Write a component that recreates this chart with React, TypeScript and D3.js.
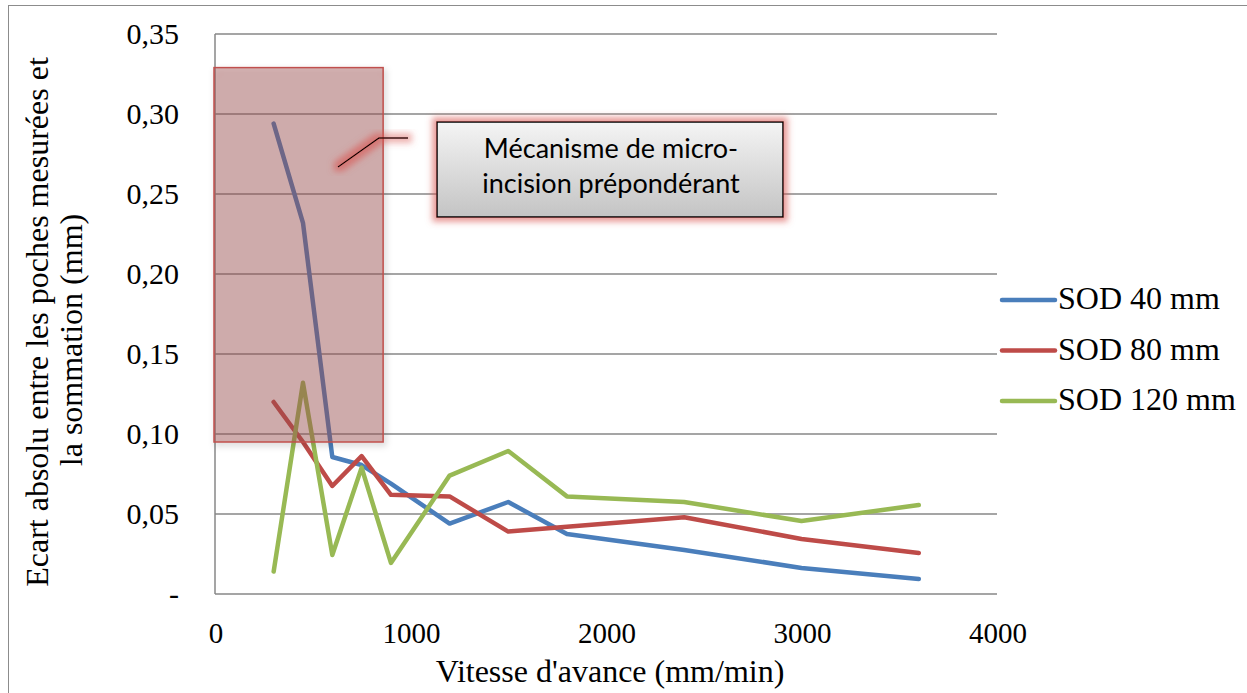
import React from "react";
import * as d3 from "d3";

const xValues = [300, 450, 600, 750, 900, 1200, 1500, 1800, 2400, 3000, 3600];
const sod40 = [0.294, 0.232, 0.0856, 0.0806, 0.069, 0.044, 0.0575, 0.0375, 0.0275, 0.0163, 0.0094];
const sod80 = [0.12, 0.095, 0.0675, 0.0862, 0.062, 0.061, 0.039, 0.042, 0.048, 0.0344, 0.0256];
const sod120 = [0.014, 0.132, 0.0244, 0.079, 0.0194, 0.074, 0.0894, 0.061, 0.0575, 0.0456, 0.0556];
const seriesNames = ["SOD 40 mm", "SOD 80 mm", "SOD 120 mm"];
const seriesColors = ["#4A7EBB", "#BE4B48", "#98B954"];
const yTicks = [0, 0.05, 0.1, 0.15, 0.2, 0.25, 0.3, 0.35];
const xTicks = [0, 1000, 2000, 3000, 4000];
const highlightX = [0, 860];
const highlightY = [0.095, 0.329];

export default function App() {
  const W = 1247, H = 693;
  const left = 215, right = 997, top = 34, bottom = 594;
  const x = d3.scaleLinear().domain([0, 4000]).range([left, right]);
  const y = d3.scaleLinear().domain([0, 0.35]).range([bottom, top]);
  const all = [sod40, sod80, sod120];
  const line = d3.line<[number, number]>().x(d => x(d[0])).y(d => y(d[1]));
  const fmt = (v: number) => (v === 0 ? "-" : v.toFixed(2).replace(".", ","));
  const serif = "'Liberation Serif', 'Times New Roman', serif";
  const sans = "Lato, 'Open Sans', sans-serif";
  const rx0 = x(highlightX[0]) - 1, rx1 = x(highlightX[1]);
  const ry0 = y(highlightY[1]), ry1 = y(highlightY[0]);
  return (
    <svg width={W} height={H} style={{ position: "absolute", left: 0, top: 0, background: "#fff" }}>
      <defs>
        <linearGradient id="boxg" x1="0" y1="0" x2="0" y2="1">
          <stop offset="0" stopColor="#f4f4f4" />
          <stop offset="1" stopColor="#c4c4c4" />
        </linearGradient>
        <filter id="glow" x="-20%" y="-30%" width="140%" height="160%">
          <feMorphology in="SourceAlpha" operator="dilate" radius="4" result="d" />
          <feGaussianBlur in="d" stdDeviation="3" result="b" />
          <feFlood floodColor="#D9534F" floodOpacity="0.6" />
          <feComposite in2="b" operator="in" result="g" />
          <feMerge>
            <feMergeNode in="g" />
            <feMergeNode in="SourceGraphic" />
          </feMerge>
        </filter>
        <filter id="shadow" x="-10%" y="-10%" width="130%" height="130%">
          <feDropShadow dx="2" dy="3" stdDeviation="3" floodColor="#000" floodOpacity="0.25" />
        </filter>
      </defs>
      <rect x={8.5} y={5.5} width={1245} height={700} fill="#fff" stroke="#8c8c8c" strokeWidth={1} />
      {yTicks.map(t => (
        <line key={t} x1={left} x2={right} y1={y(t)} y2={y(t)} stroke="#878787" strokeWidth={1.5} />
      ))}
      <line x1={left} x2={left} y1={top} y2={bottom} stroke="#878787" strokeWidth={1.5} />
      {yTicks.map(t => (
        <text key={t} x={179} y={y(t) + 9.5} textAnchor="end" fontFamily={serif} fontSize={30} fill="#000">
          {fmt(t)}
        </text>
      ))}
      {xTicks.map(t => (
        <text key={t} x={x(t) + 1} y={643} textAnchor="middle" fontFamily={serif} fontSize={29} fill="#000">
          {t}
        </text>
      ))}
      <text x={610} y={682} textAnchor="middle" fontFamily={serif} fontSize={32} fill="#000">
        Vitesse d'avance (mm/min)
      </text>
      <text transform="translate(48,322) rotate(-90)" textAnchor="middle" fontFamily={serif} fontSize={32} fill="#000">
        Ecart absolu entre les poches mesurées et
      </text>
      <text transform="translate(82,340) rotate(-90)" textAnchor="middle" fontFamily={serif} fontSize={32} fill="#000">
        la sommation (mm)
      </text>
      {all.map((s, i) => (
        <path
          key={i}
          d={line(xValues.map((v, j) => [v, s[j]] as [number, number])) || ""}
          fill="none"
          stroke={seriesColors[i]}
          strokeWidth={4.5}
          strokeLinejoin="round"
          strokeLinecap="round"
        />
      ))}
      <rect x={rx0} y={ry0} width={rx1 - rx0} height={ry1 - ry0} fill="rgb(160,77,77)" fillOpacity={0.4}
        stroke="#C0504D" strokeWidth={1.5} filter="url(#shadow)" />
      <g filter="url(#glow)">
        <polyline points="338,167 379,138 408,138" fill="none" stroke="#000" strokeWidth={1.5} />
      </g>
      <g filter="url(#glow)">
        <rect x={437} y={122} width={346} height={95} fill="url(#boxg)" stroke="#000" strokeWidth={1.5} />
      </g>
      <text x={611} y={158} textAnchor="middle" fontFamily={sans} fontSize={27} fill="#000">
        Mécanisme de micro-
      </text>
      <text x={611} y={193} textAnchor="middle" fontFamily={sans} fontSize={27} fill="#000">
        incision prépondérant
      </text>
      {seriesNames.map((n, i) => (
        <g key={n}>
          <line x1={1002} x2={1055} y1={300 + i * 50.5} y2={300 + i * 50.5} stroke={seriesColors[i]} strokeWidth={4.5} strokeLinecap="round" />
          <text x={1058} y={309 + i * 50.5} fontFamily={serif} fontSize={32} fill="#000">{n}</text>
        </g>
      ))}
    </svg>
  );
}
